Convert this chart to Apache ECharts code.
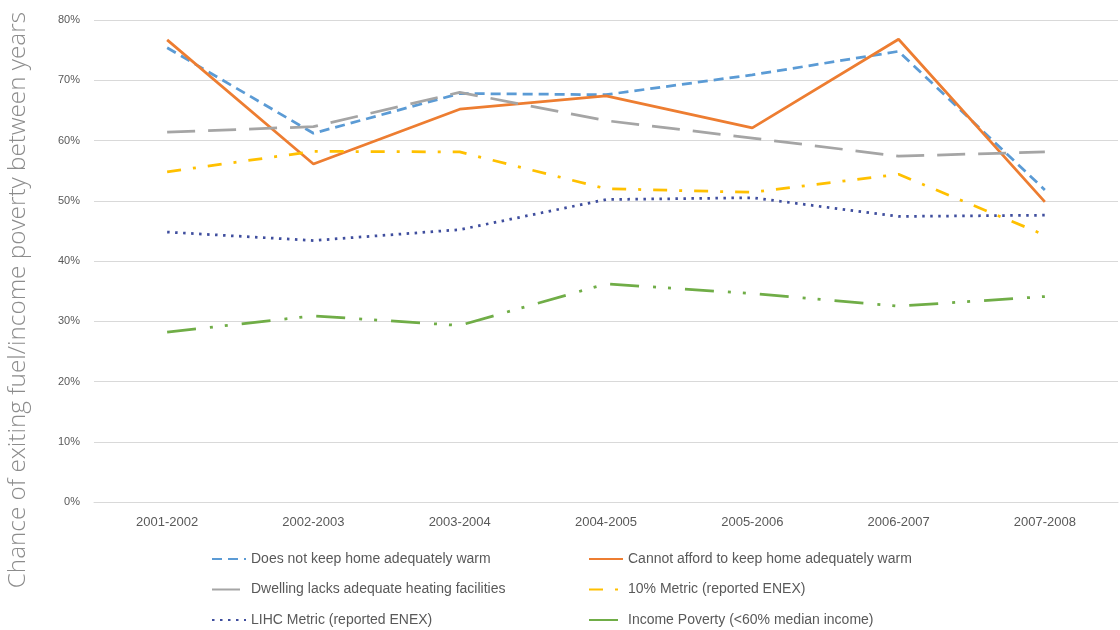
<!DOCTYPE html>
<html>
<head>
<meta charset="utf-8">
<script src="https://cdn.jsdelivr.net/npm/echarts@6/dist/echarts.min.js"></script>
<style>
  html, body { margin: 0; padding: 0; background: #ffffff; }
  #chart { width: 1120px; height: 630px; }
</style>
</head>
<body>
<div id="chart"></div>
<script>
// Survey periods along the x axis
const periods = ['2001-2002', '2002-2003', '2003-2004', '2004-2005', '2005-2006', '2006-2007', '2007-2008'];

// Chance (%) of exiting fuel / income poverty between consecutive years
const notWarm      = [75.4, 61.2, 67.8, 67.6, 70.9, 74.8, 51.8];
const cannotAfford = [76.7, 56.1, 65.2, 67.4, 62.1, 76.8, 49.8];
const lacksHeating = [61.4, 62.3, 68.0, 63.3, 60.4, 57.4, 58.1];
const tenPercent   = [54.8, 58.2, 58.1, 52.0, 51.4, 54.4, 44.3];
const lihc         = [44.8, 43.4, 45.2, 50.2, 50.5, 47.4, 47.6];
const incomePov    = [28.2, 30.9, 29.3, 36.2, 34.6, 32.5, 34.1];

// Y axis ticks (percent)
const yTicks = [0, 10, 20, 30, 40, 50, 60, 70, 80];

const seriesNames = [
  'Does not keep home adequately warm',
  'Cannot afford to keep home adequately warm',
  'Dwelling lacks adequate heating facilities',
  '10% Metric (reported ENEX)',
  'LIHC Metric (reported ENEX)',
  'Income Poverty (<60% median income)'
];

const chart = echarts.init(document.getElementById('chart'), null, { renderer: 'canvas' });

function lineSeries(name, data, color, width, type) {
  return {
    name: name,
    type: 'line',
    data: data,
    symbol: 'none',
    showSymbol: false,
    smooth: false,
    lineStyle: { color: color, width: width, type: type, cap: 'butt' },
    itemStyle: { color: color },
    emphasis: { disabled: true }
  };
}

const legendText = { color: '#595959', fontSize: 14, fontFamily: 'Liberation Sans, Arial, sans-serif' };

// Two legend columns, three rows each
function legendColumn(left, names) {
  return {
    orient: 'vertical', left: left, top: 552, height: 78, padding: 0,
    itemWidth: 34, itemHeight: 14, itemGap: 16.5,
    data: names,
    textStyle: legendText,
    itemStyle: { opacity: 0 },
    selectedMode: false
  };
}

chart.setOption({
  backgroundColor: '#ffffff',
  animation: false,
  grid: { left: 94, right: 2, top: 20, bottom: 128, containLabel: false },
  xAxis: {
    type: 'category',
    data: periods,
    boundaryGap: true,
    axisLine: { show: true, lineStyle: { color: '#d9d9d9', width: 1 } },
    axisTick: { show: false },
    axisLabel: { color: '#595959', fontSize: 13, margin: 14, fontFamily: 'Liberation Sans, Arial, sans-serif' }
  },
  yAxis: {
    type: 'value',
    min: yTicks[0],
    max: yTicks[yTicks.length - 1],
    interval: 10,
    axisLine: { show: false },
    axisTick: { show: false },
    splitLine: { lineStyle: { color: '#d9d9d9', width: 1 } },
    axisLabel: { color: '#595959', fontSize: 11, margin: 14, formatter: '{value}%', fontFamily: 'Liberation Sans, Arial, sans-serif' }
  },
  legend: [
    legendColumn(211, [seriesNames[0], seriesNames[2], seriesNames[4]]),
    legendColumn(588, [seriesNames[1], seriesNames[3], seriesNames[5]])
  ],
  graphic: [{
    type: 'text',
    left: 6,
    top: 12,
    rotation: Math.PI / 2,
    style: {
      text: 'Chance of exiting fuel/income poverty between years',
      fill: '#8c8c8c',
      font: '300 24.3px "Open Sans", "Liberation Sans", Arial, sans-serif'
    }
  }],
  series: [
    lineSeries(seriesNames[0], notWarm, '#5B9BD5', 2.75, [10, 6]),
    lineSeries(seriesNames[1], cannotAfford, '#ED7D31', 2.75, 'solid'),
    lineSeries(seriesNames[2], lacksHeating, '#A5A5A5', 2.75, [28, 13]),
    lineSeries(seriesNames[3], tenPercent, '#FFC000', 2.75, [14, 12, 3, 12]),
    lineSeries(seriesNames[4], lihc, '#3F4E9E', 2.75, [2.5, 5.5]),
    lineSeries(seriesNames[5], incomePov, '#70AD47', 2.75, [29, 14, 3, 12, 3, 14])
  ]
});
</script>
</body>
</html>
